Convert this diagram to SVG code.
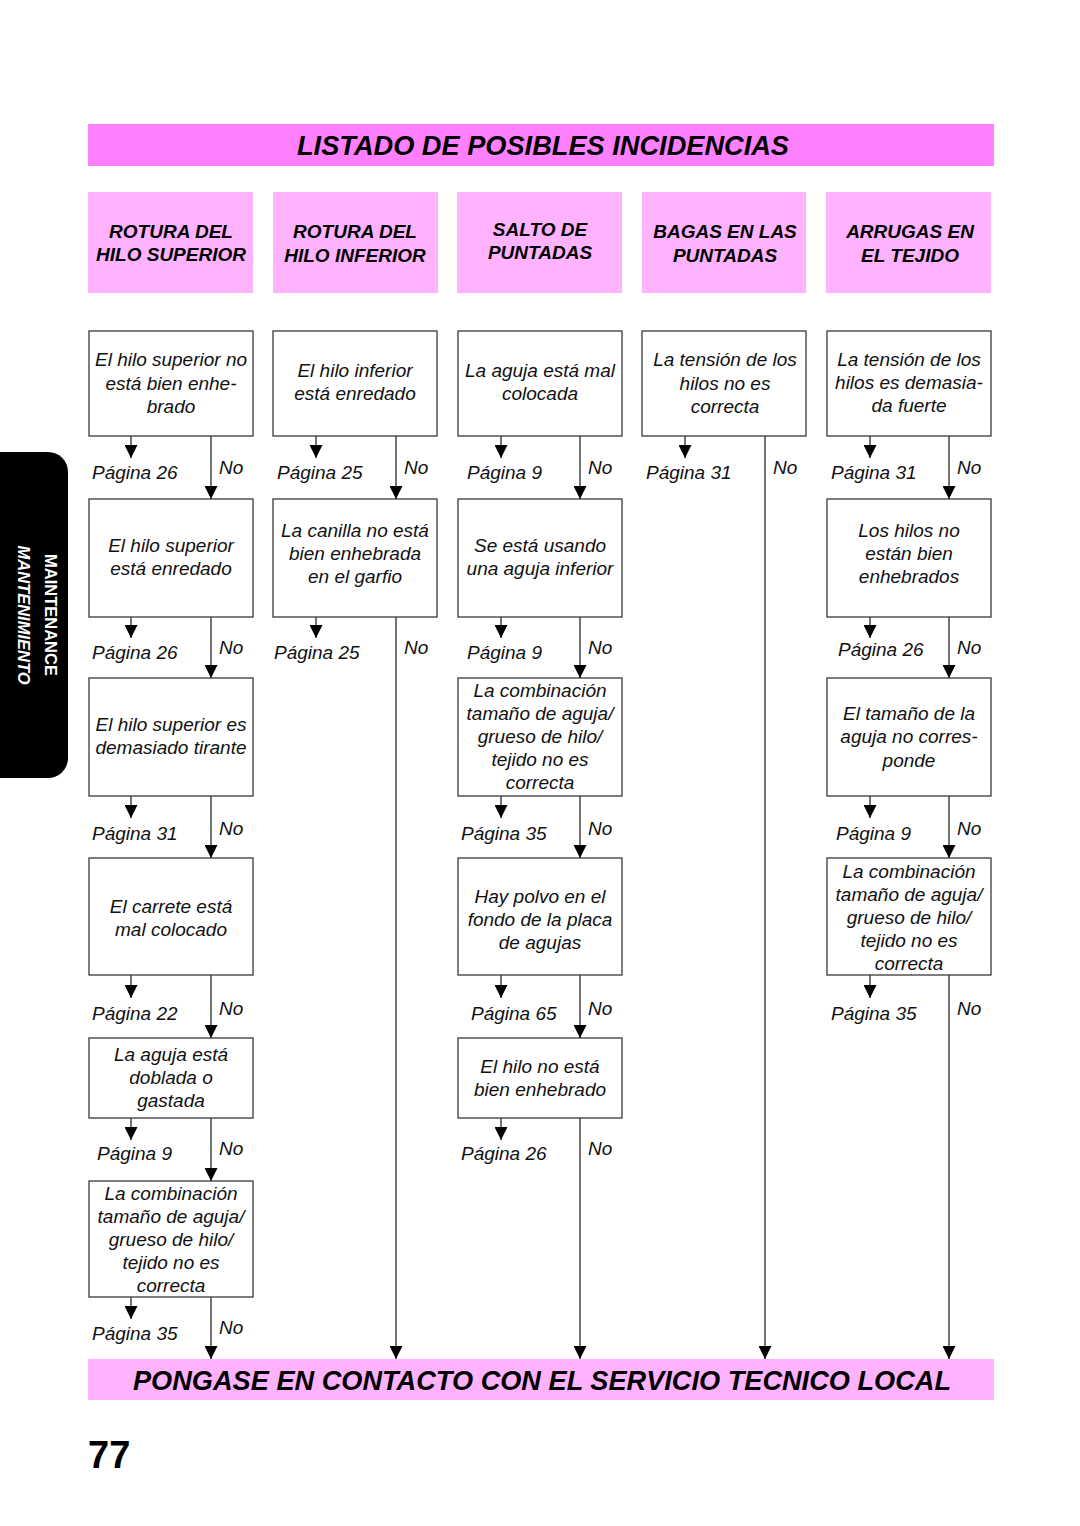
<svg xmlns="http://www.w3.org/2000/svg" width="1080" height="1526" viewBox="0 0 1080 1526">
<style>
.box{fill:#fff;stroke:#3a3a3a;stroke-width:1.3}
.hdr{fill:#ffb3ff}
.t{font-family:"Liberation Sans",Arial,sans-serif;font-style:italic;font-size:19px;fill:#111;text-anchor:middle}
.p{font-family:"Liberation Sans",Arial,sans-serif;font-style:italic;font-size:19px;fill:#111}
.h{font-family:"Liberation Sans",Arial,sans-serif;font-style:italic;font-weight:bold;font-size:19px;fill:#000;text-anchor:middle}
.big{font-family:"Liberation Sans",Arial,sans-serif;font-style:italic;font-weight:bold;font-size:28px;fill:#000;text-anchor:middle}
.ln{stroke:#2a2a2a;stroke-width:1.3;fill:none;marker-end:url(#ah)}
</style>
<defs>
<marker id="ah" markerUnits="userSpaceOnUse" markerWidth="13" markerHeight="13" refX="13" refY="6.5" orient="auto">
<path d="M0,0 L13,6.5 L0,13 z" fill="#000"/>
</marker>
</defs>
<rect width="1080" height="1526" fill="#fff"/>

<g id="title">
<rect x="88" y="124" width="906" height="42" fill="#ff80ff"/>
<text class="big" x="543" y="155" textLength="492" lengthAdjust="spacingAndGlyphs">LISTADO DE POSIBLES INCIDENCIAS</text>
</g>

<g id="side-tab">
<path d="M0,452 H48 A20,20 0 0 1 68,472 V758 A20,20 0 0 1 48,778 H0 Z" fill="#000"/>
<text transform="translate(45,615) rotate(90)" font-family="Liberation Sans,Arial,sans-serif" font-weight="bold" font-size="16.5" fill="#fff" text-anchor="middle">MAINTENANCE</text>
<text transform="translate(18,615) rotate(90)" font-family="Liberation Sans,Arial,sans-serif" font-weight="bold" font-style="italic" font-size="16.5" fill="#fff" text-anchor="middle">MANTENIMIENTO</text>
</g>

<g id="hdr1"><rect class="hdr" x="88" y="192" width="165" height="101"/><text class="h" x="171" y="238">ROTURA DEL</text><text class="h" x="171" y="261">HILO SUPERIOR</text></g>
<g id="hdr2"><rect class="hdr" x="273" y="192" width="165" height="101"/><text class="h" x="355" y="238">ROTURA DEL</text><text class="h" x="355" y="262">HILO INFERIOR</text></g>
<g id="hdr3"><rect class="hdr" x="457" y="192" width="165" height="101"/><text class="h" x="540" y="236">SALTO DE</text><text class="h" x="540" y="259">PUNTADAS</text></g>
<g id="hdr4"><rect class="hdr" x="642" y="192" width="164" height="101"/><text class="h" x="725" y="238">BAGAS EN LAS</text><text class="h" x="725" y="262">PUNTADAS</text></g>
<g id="hdr5"><rect class="hdr" x="826" y="192" width="165" height="101"/><text class="h" x="910" y="238">ARRUGAS EN</text><text class="h" x="910" y="262">EL TEJIDO</text></g>

<!-- Column 1 -->
<g id="c1r1"><rect class="box" x="89" y="331" width="164" height="105"/><text class="t" x="171" y="366">El hilo superior no</text><text class="t" x="171" y="390">está bien enhe-</text><text class="t" x="171" y="413">brado</text></g>
<g id="c1r2"><rect class="box" x="89" y="499" width="164" height="118"/><text class="t" x="171" y="552">El hilo superior</text><text class="t" x="171" y="575">está enredado</text></g>
<g id="c1r3"><rect class="box" x="89" y="678" width="164" height="118"/><text class="t" x="171" y="731">El hilo superior es</text><text class="t" x="171" y="754">demasiado tirante</text></g>
<g id="c1r4"><rect class="box" x="89" y="858" width="164" height="117"/><text class="t" x="171" y="913">El carrete está</text><text class="t" x="171" y="936">mal colocado</text></g>
<g id="c1r5"><rect class="box" x="89" y="1038" width="164" height="80"/><text class="t" x="171" y="1061">La aguja está</text><text class="t" x="171" y="1084">doblada o</text><text class="t" x="171" y="1107">gastada</text></g>
<g id="c1r6"><rect class="box" x="89" y="1181" width="164" height="116"/><text class="t" x="171" y="1200">La combinación</text><text class="t" x="171" y="1223">tamaño de aguja/</text><text class="t" x="171" y="1246">grueso de hilo/</text><text class="t" x="171" y="1269">tejido no es</text><text class="t" x="171" y="1292">correcta</text></g>

<!-- Column 2 -->
<g id="c2r1"><rect class="box" x="273" y="331" width="164" height="105"/><text class="t" x="355" y="377">El hilo inferior</text><text class="t" x="355" y="400">está enredado</text></g>
<g id="c2r2"><rect class="box" x="273" y="499" width="164" height="118"/><text class="t" x="355" y="537">La canilla no está</text><text class="t" x="355" y="560">bien enhebrada</text><text class="t" x="355" y="583">en el garfio</text></g>

<!-- Column 3 -->
<g id="c3r1"><rect class="box" x="458" y="331" width="164" height="105"/><text class="t" x="540" y="377">La aguja está mal</text><text class="t" x="540" y="400">colocada</text></g>
<g id="c3r2"><rect class="box" x="458" y="499" width="164" height="118"/><text class="t" x="540" y="552">Se está usando</text><text class="t" x="540" y="575">una aguja inferior</text></g>
<g id="c3r3"><rect class="box" x="458" y="678" width="164" height="118"/><text class="t" x="540" y="697">La combinación</text><text class="t" x="540" y="720">tamaño de aguja/</text><text class="t" x="540" y="743">grueso de hilo/</text><text class="t" x="540" y="766">tejido no es</text><text class="t" x="540" y="789">correcta</text></g>
<g id="c3r4"><rect class="box" x="458" y="858" width="164" height="117"/><text class="t" x="540" y="903">Hay polvo en el</text><text class="t" x="540" y="926">fondo de la placa</text><text class="t" x="540" y="949">de agujas</text></g>
<g id="c3r5"><rect class="box" x="458" y="1038" width="164" height="80"/><text class="t" x="540" y="1073">El hilo no está</text><text class="t" x="540" y="1096">bien enhebrado</text></g>

<!-- Column 4 -->
<g id="c4r1"><rect class="box" x="642" y="331" width="164" height="105"/><text class="t" x="725" y="366">La tensión de los</text><text class="t" x="725" y="390">hilos no es</text><text class="t" x="725" y="413">correcta</text></g>

<!-- Column 5 -->
<g id="c5r1"><rect class="box" x="827" y="331" width="164" height="105"/><text class="t" x="909" y="366">La tensión de los</text><text class="t" x="909" y="389">hilos es demasia-</text><text class="t" x="909" y="412">da fuerte</text></g>
<g id="c5r2"><rect class="box" x="827" y="499" width="164" height="118"/><text class="t" x="909" y="537">Los hilos no</text><text class="t" x="909" y="560">están bien</text><text class="t" x="909" y="583">enhebrados</text></g>
<g id="c5r3"><rect class="box" x="827" y="678" width="164" height="118"/><text class="t" x="909" y="720">El tamaño de la</text><text class="t" x="909" y="743">aguja no corres-</text><text class="t" x="909" y="767">ponde</text></g>
<g id="c5r4"><rect class="box" x="827" y="858" width="164" height="117"/><text class="t" x="909" y="878">La combinación</text><text class="t" x="909" y="901">tamaño de aguja/</text><text class="t" x="909" y="924">grueso de hilo/</text><text class="t" x="909" y="947">tejido no es</text><text class="t" x="909" y="970">correcta</text></g>

<g id="bottom">
<rect x="88" y="1359" width="906" height="41" fill="#ffb3ff"/>
<text class="big" x="542" y="1390" textLength="818" lengthAdjust="spacingAndGlyphs">PONGASE EN CONTACTO CON EL SERVICIO TECNICO LOCAL</text>
</g>

<g id="connectors">
<!-- col1 yes -->
<line class="ln" x1="131" y1="436" x2="131" y2="458"/>
<line class="ln" x1="131" y1="617" x2="131" y2="638"/>
<line class="ln" x1="131" y1="796" x2="131" y2="818"/>
<line class="ln" x1="131" y1="975" x2="131" y2="998"/>
<line class="ln" x1="131" y1="1118" x2="131" y2="1140"/>
<line class="ln" x1="131" y1="1297" x2="131" y2="1319"/>
<!-- col1 no -->
<line class="ln" x1="211" y1="436" x2="211" y2="499"/>
<line class="ln" x1="211" y1="617" x2="211" y2="678"/>
<line class="ln" x1="211" y1="796" x2="211" y2="858"/>
<line class="ln" x1="211" y1="975" x2="211" y2="1038"/>
<line class="ln" x1="211" y1="1118" x2="211" y2="1181"/>
<line class="ln" x1="211" y1="1297" x2="211" y2="1359"/>
<!-- col2 -->
<line class="ln" x1="316" y1="436" x2="316" y2="458"/>
<line class="ln" x1="316" y1="617" x2="316" y2="638"/>
<line class="ln" x1="396" y1="436" x2="396" y2="499"/>
<line class="ln" x1="396" y1="617" x2="396" y2="1359"/>
<!-- col3 -->
<line class="ln" x1="501" y1="436" x2="501" y2="458"/>
<line class="ln" x1="501" y1="617" x2="501" y2="638"/>
<line class="ln" x1="501" y1="796" x2="501" y2="818"/>
<line class="ln" x1="501" y1="975" x2="501" y2="998"/>
<line class="ln" x1="501" y1="1118" x2="501" y2="1140"/>
<line class="ln" x1="580" y1="436" x2="580" y2="499"/>
<line class="ln" x1="580" y1="617" x2="580" y2="678"/>
<line class="ln" x1="580" y1="796" x2="580" y2="858"/>
<line class="ln" x1="580" y1="975" x2="580" y2="1038"/>
<line class="ln" x1="580" y1="1118" x2="580" y2="1359"/>
<!-- col4 -->
<line class="ln" x1="685" y1="436" x2="685" y2="458"/>
<line class="ln" x1="765" y1="436" x2="765" y2="1359"/>
<!-- col5 -->
<line class="ln" x1="870" y1="436" x2="870" y2="458"/>
<line class="ln" x1="870" y1="617" x2="870" y2="638"/>
<line class="ln" x1="870" y1="796" x2="870" y2="818"/>
<line class="ln" x1="870" y1="975" x2="870" y2="998"/>
<line class="ln" x1="949" y1="436" x2="949" y2="499"/>
<line class="ln" x1="949" y1="617" x2="949" y2="678"/>
<line class="ln" x1="949" y1="796" x2="949" y2="858"/>
<line class="ln" x1="949" y1="975" x2="949" y2="1359"/>
</g>

<g id="labels">
<text class="p" x="92" y="479">Página 26</text><text class="p" x="219" y="474">No</text>
<text class="p" x="92" y="659">Página 26</text><text class="p" x="219" y="654">No</text>
<text class="p" x="92" y="840">Página 31</text><text class="p" x="219" y="835">No</text>
<text class="p" x="92" y="1020">Página 22</text><text class="p" x="219" y="1015">No</text>
<text class="p" x="97" y="1160">Página 9</text><text class="p" x="219" y="1155">No</text>
<text class="p" x="92" y="1340">Página 35</text><text class="p" x="219" y="1334">No</text>

<text class="p" x="277" y="479">Página 25</text><text class="p" x="404" y="474">No</text>
<text class="p" x="274" y="659">Página 25</text><text class="p" x="404" y="654">No</text>

<text class="p" x="467" y="479">Página 9</text><text class="p" x="588" y="474">No</text>
<text class="p" x="467" y="659">Página 9</text><text class="p" x="588" y="654">No</text>
<text class="p" x="461" y="840">Página 35</text><text class="p" x="588" y="835">No</text>
<text class="p" x="471" y="1020">Página 65</text><text class="p" x="588" y="1015">No</text>
<text class="p" x="461" y="1160">Página 26</text><text class="p" x="588" y="1155">No</text>

<text class="p" x="646" y="479">Página 31</text><text class="p" x="773" y="474">No</text>

<text class="p" x="831" y="479">Página 31</text><text class="p" x="957" y="474">No</text>
<text class="p" x="838" y="656">Página 26</text><text class="p" x="957" y="654">No</text>
<text class="p" x="836" y="840">Página 9</text><text class="p" x="957" y="835">No</text>
<text class="p" x="831" y="1020">Página 35</text><text class="p" x="957" y="1015">No</text>
</g>

<text x="88" y="1468" font-family="Liberation Sans,Arial,sans-serif" font-weight="bold" font-size="38" fill="#000">77</text>
</svg>
